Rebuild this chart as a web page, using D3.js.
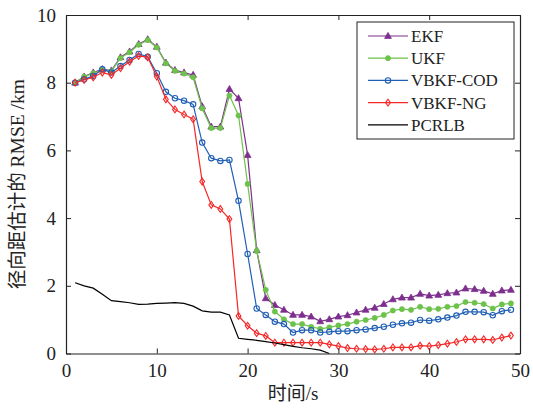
<!DOCTYPE html>
<html>
<head>
<meta charset="utf-8">
<script src="https://cdn.jsdelivr.net/npm/d3@7/dist/d3.min.js"></script>
<style>
  body { margin: 0; background: #fff; }
  text { font-family: "Liberation Serif", "Noto Sans CJK SC", serif; }
</style>
</head>
<body>
<svg width="533" height="408"></svg>
<script>
// data, t = 1..49 s
var seriesNames = ['EKF', 'UKF', 'VBKF-COD', 'VBKF-NG', 'PCRLB'];

var ekf = [8.00, 8.18, 8.30, 8.40, 8.36, 8.75, 8.92, 9.14, 9.28, 9.06,
    8.59, 8.37, 8.30, 8.23, 7.30, 6.70, 6.70, 7.81, 7.54, 5.86,
    3.05, 1.63, 1.43, 1.29, 1.14, 1.14, 1.09, 0.95, 1.01, 1.09,
    1.13, 1.21, 1.29, 1.35, 1.46, 1.60, 1.65, 1.65, 1.76, 1.71,
    1.73, 1.78, 1.80, 1.92, 1.90, 1.85, 1.76, 1.86, 1.88];

var ukf = [8.00, 8.18, 8.28, 8.38, 8.34, 8.73, 8.90, 9.12, 9.26, 9.04,
    8.57, 8.35, 8.27, 8.16, 7.24, 6.66, 6.66, 7.62, 7.03, 5.01,
    3.03, 1.88, 1.24, 1.01, 0.87, 0.87, 0.79, 0.73, 0.77, 0.83,
    0.87, 0.94, 0.99, 1.05, 1.14, 1.27, 1.31, 1.29, 1.38, 1.31,
    1.32, 1.38, 1.40, 1.52, 1.50, 1.46, 1.33, 1.45, 1.48];

var vbkfCod = [8.00, 8.10, 8.20, 8.40, 8.30, 8.49, 8.67, 8.85, 8.77, 8.28,
    7.73, 7.54, 7.47, 7.36, 6.23, 5.77, 5.69, 5.72, 4.51, 2.94,
    1.33, 1.14, 0.94, 0.87, 0.62, 0.69, 0.69, 0.62, 0.64, 0.66,
    0.66, 0.69, 0.71, 0.75, 0.79, 0.85, 0.89, 0.91, 0.99, 0.97,
    1.01, 1.06, 1.12, 1.23, 1.23, 1.22, 1.13, 1.25, 1.29];

var vbkfNg = [8.00, 8.08, 8.16, 8.30, 8.23, 8.43, 8.62, 8.79, 8.75, 8.18,
    7.51, 7.21, 7.06, 6.92, 5.08, 4.39, 4.27, 3.97, 1.11, 0.82,
    0.60, 0.52, 0.32, 0.32, 0.32, 0.32, 0.32, 0.32, 0.27, 0.22,
    0.16, 0.14, 0.13, 0.12, 0.14, 0.18, 0.18, 0.18, 0.23, 0.22,
    0.25, 0.29, 0.34, 0.42, 0.42, 0.42, 0.40, 0.47, 0.53];

var pcrlb = [2.09, 2.00, 1.93, 1.75, 1.56, 1.53, 1.50, 1.45, 1.46, 1.48,
    1.49, 1.50, 1.48, 1.40, 1.26, 1.22, 1.22, 1.14, 0.45, 0.42,
    0.39, 0.35, 0.31, 0.26, 0.21, 0.17, 0.14, 0.10, 0.00];

var xTicks = [0, 10, 20, 30, 40, 50];
var yTicks = [0, 2, 4, 6, 8, 10];

var svg = d3.select('svg');

var box = {l: 66, r: 520, t: 15, b: 353.5};

var xScale = d3.scaleLinear().domain([0, 50]).range([box.l, box.r]);
var yScale = d3.scaleLinear().domain([0, 10]).range([box.b, box.t]);

var series = [
    {name: 'EKF', values: ekf, color: '#7e2f8e', marker: 'triangle'},
    {name: 'UKF', values: ukf, color: '#6cc24a', marker: 'dot'},
    {name: 'VBKF-COD', values: vbkfCod, color: '#1f5fb4', marker: 'circle'},
    {name: 'VBKF-NG', values: vbkfNg, color: '#f52828', marker: 'diamond'},
    {name: 'PCRLB', values: pcrlb, color: '#000', marker: 'none'}
];

var line = d3.line()
    .x(function(d, i) { return xScale(i + 1); })
    .y(function(d) { return yScale(d); });

// draw a marker of given type at (x, y)
function drawMarker(g, type, color, x, y) {
    if (type === 'triangle') {
        g.append('path')
            .attr('d', 'M' + x + ',' + (y - 3.6) + 'L' + (x + 3.4) + ',' + (y + 2.4) + 'L' + (x - 3.4) + ',' + (y + 2.4) + 'Z')
            .attr('fill', color).attr('stroke', color).attr('stroke-width', 0.8);
    } else if (type === 'dot') {
        g.append('circle').attr('cx', x).attr('cy', y).attr('r', 2.6)
            .attr('fill', color).attr('stroke', color).attr('stroke-width', 0.6);
    } else if (type === 'circle') {
        g.append('circle').attr('cx', x).attr('cy', y).attr('r', 2.7)
            .attr('fill', 'none').attr('stroke', color).attr('stroke-width', 1.1);
    } else if (type === 'diamond') {
        g.append('path')
            .attr('d', 'M' + x + ',' + (y - 3.4) + 'L' + (x + 2.4) + ',' + y + 'L' + x + ',' + (y + 3.4) + 'L' + (x - 2.4) + ',' + y + 'Z')
            .attr('fill', 'none').attr('stroke', color).attr('stroke-width', 1.1);
    }
}

var plotG = svg.append('g');

series.forEach(function(s) {
    var g = plotG.append('g').attr('class', 'series');
    g.append('path')
        .datum(s.values)
        .attr('d', line)
        .attr('fill', 'none')
        .attr('stroke', s.color)
        .attr('stroke-width', 1.2);
    if (s.marker !== 'none') {
        s.values.forEach(function(v, i) {
            drawMarker(g, s.marker, s.color, xScale(i + 1), yScale(v));
        });
    }
});

// axes with inward ticks on all four sides
var axisG = svg.append('g');

axisG.append('g')
    .attr('transform', 'translate(0,' + box.b + ')')
    .call(d3.axisBottom(xScale).tickValues(xTicks).tickSizeInner(-5).tickSizeOuter(0).tickPadding(10));
axisG.append('g')
    .attr('transform', 'translate(0,' + box.t + ')')
    .call(d3.axisTop(xScale).tickValues(xTicks).tickSizeInner(-5).tickSizeOuter(0).tickFormat(''));
axisG.append('g')
    .attr('transform', 'translate(' + box.l + ',0)')
    .call(d3.axisLeft(yScale).tickValues(yTicks).tickSizeInner(-5).tickSizeOuter(0).tickPadding(10));
axisG.append('g')
    .attr('transform', 'translate(' + box.r + ',0)')
    .call(d3.axisRight(yScale).tickValues(yTicks).tickSizeInner(-5).tickSizeOuter(0).tickFormat(''));

axisG.selectAll('.domain').attr('stroke', '#222').attr('stroke-width', 1.2);
axisG.selectAll('.tick line').attr('stroke', '#222');
axisG.selectAll('.tick text')
    .style('font-family', '"Liberation Serif", serif')
    .style('font-size', '19px')
    .attr('fill', '#222');

// axis titles
svg.append('text')
    .attr('x', (box.l + box.r) / 2)
    .attr('y', 400)
    .attr('text-anchor', 'middle')
    .style('font-size', '19px')
    .attr('fill', '#222')
    .text('时间/s');

svg.append('text')
    .attr('transform', 'translate(24,' + ((box.t + box.b) / 2) + ') rotate(-90)')
    .attr('text-anchor', 'middle')
    .style('font-size', '19.5px')
    .attr('fill', '#222')
    .text('径向距估计的 RMSE /km');

// legend
var legendG = svg.append('g').attr('transform', 'translate(357,22)');
legendG.append('rect')
    .attr('width', 157).attr('height', 117)
    .attr('fill', '#fff').attr('stroke', '#222').attr('stroke-width', 1);

series.forEach(function(s, i) {
    var y = 14 + i * 22.2;
    legendG.append('line')
        .attr('x1', 11).attr('x2', 51).attr('y1', y).attr('y2', y)
        .attr('stroke', s.color).attr('stroke-width', 1.2);
    drawMarker(legendG, s.marker, s.color, 31, y);
    legendG.append('text')
        .attr('x', 54).attr('y', y).attr('dy', '0.35em')
        .style('font-size', '17px')
        .attr('fill', '#222')
        .text(s.name);
});
</script>
</body>
</html>
